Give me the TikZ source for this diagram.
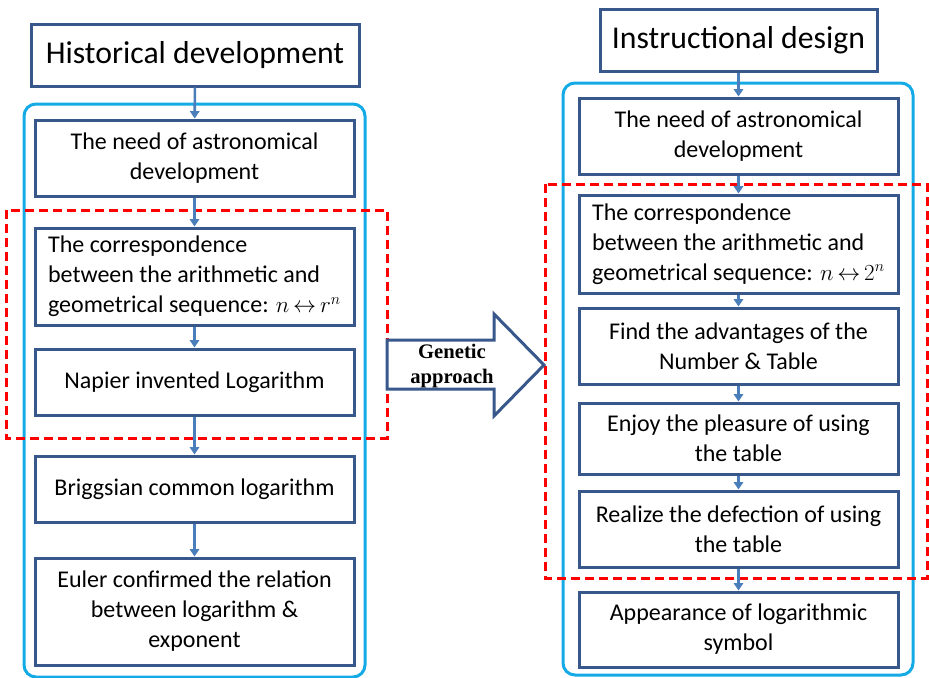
\documentclass[tikz,border=0pt]{standalone}
\usepackage{fontspec}
\setmainfont{Carlito}
\newfontfamily\arrowfont{Liberation Serif}
\usetikzlibrary{arrows.meta}

\definecolor{boxblue}{RGB}{56,87,138}
\definecolor{linkblue}{RGB}{74,126,187}
\definecolor{frameblue}{RGB}{20,170,230}
\definecolor{groupred}{RGB}{255,0,0}

\tikzset{every picture/.style={line width=0.75pt},
  titlebox/.style={draw=boxblue,line width=2.25pt,fill=white,inner sep=0pt,minimum height=46.5pt,font=\fontsize{23.8}{28}\selectfont},
  stagebox/.style={draw=boxblue,line width=2.25pt,fill=white,minimum width=239.25pt,align=center,inner sep=0pt,font=\fontsize{18}{22.5}\selectfont},
  link/.style={draw=linkblue,line width=1.9pt,-{Triangle[width=7pt,length=5.5pt]}},
  frame/.style={draw=frameblue,line width=2.25pt,rounded corners=9pt},
  group/.style={draw=groupred,line width=2.25pt,dash pattern={on 6.75pt off 3.75pt}}}

\begin{document}
\begin{tikzpicture}[x=0.75pt,y=0.75pt,yscale=-1,xscale=1]
	\useasboundingbox (0,0) rectangle (929,678);
	%Shape: Rounded Rect [id:frameHist]
	\draw [frame] (24,104) rectangle (365,677) ;
	%Shape: Rounded Rect [id:frameInstr]
	\draw [frame] (563,83) rectangle (913,675) ;
	%Shape: Rectangle [id:groupHist]
	\draw [group] (6,210) rectangle (387,438) ;
	%Shape: Rectangle [id:groupInstr]
	\draw [group] (545,184) rectangle (927,578) ;
	
	%Shape: Right Arrow [id:genetic]
	\draw [draw=boxblue,line width=2.25pt,fill=white,line join=miter] (387,340) -- (494,340) -- (494,314) -- (544,365) -- (494,416) -- (494,389) -- (387,389) -- cycle ;
	% Text Node
	\node (approach) at (452,366) [align=center,inner sep=0pt,font=\arrowfont\bfseries\fontsize{15.5}{18.5}\selectfont] {Genetic\\approach};
	
	% Historical development
	\node (hist) at (195,55) [titlebox,minimum width=246pt] {Historical development};
	\node (h1) at (194.5,158) [stagebox,minimum height=57pt] {The need of astronomical\\development};
	\node (h2) at (194.5,276.5) [stagebox,minimum height=72.75pt,align=left] {The correspondence\\between the arithmetic and\\geometrical sequence: $n\,{\leftrightarrow}\,r^{n}$};
	\node (h3) at (194.5,382) [stagebox,minimum height=49.5pt] {Napier invented Logarithm};
	\node (h4) at (194.5,489) [stagebox,minimum height=49.5pt] {Briggsian common logarithm};
	\node (h5) at (194.5,611.5) [stagebox,minimum height=80.25pt] {Euler confirmed the relation\\between logarithm \&\\exponent};
	
	% Instructional design
	\node (instr) at (738.5,40) [titlebox,minimum width=207.75pt] {Instructional design};
	\node (d1) at (738.5,136) [stagebox,minimum height=57pt] {The need of astronomical\\development};
	\node (d2) at (738.5,244) [stagebox,minimum height=73.5pt,align=left] {The correspondence\\between the arithmetic and\\geometrical sequence: $n\,{\leftrightarrow}\,2^{n}$};
	\node (d3) at (738.5,346) [stagebox,minimum height=57pt] {Find the advantages of the\\Number \& Table};
	\node (d4) at (738.5,438.5) [stagebox,minimum height=53.25pt] {Enjoy the pleasure of using\\the table};
	\node (d5) at (738.5,529) [stagebox,minimum height=57pt] {Realize the defection of using\\the table};
	\node (d6) at (738.5,629.5) [stagebox,minimum height=56.25pt] {Appearance of logarithmic\\symbol};
	
	%Straight Lines
	\draw [link] (hist) -- (h1) ;
	\draw [link] (h1) -- (h2) ;
	\draw [link] (h2) -- (h3) ;
	\draw [link] (h3) -- (h4) ;
	\draw [link] (h4) -- (h5) ;
	\draw [link] (instr) -- (d1) ;
	\draw [link] (d1) -- (d2) ;
	\draw [link] (d2) -- (d3) ;
	\draw [link] (d3) -- (d4) ;
	\draw [link] (d4) -- (d5) ;
	\draw [link] (d5) -- (d6) ;
\end{tikzpicture}
\end{document}
